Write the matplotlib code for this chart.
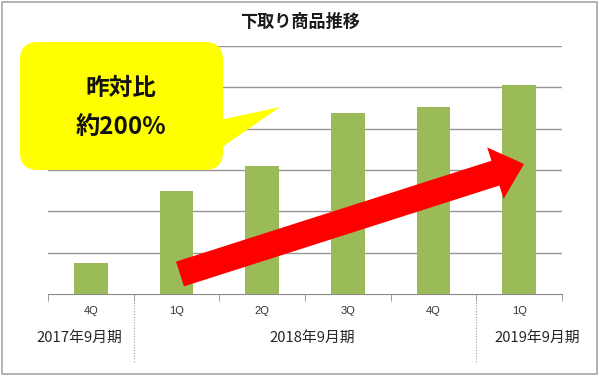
import matplotlib
matplotlib.use("Agg")
import matplotlib.pyplot as plt
from matplotlib.patches import FancyBboxPatch, Polygon, Rectangle
from matplotlib.transforms import Affine2D, blended_transform_factory
import numpy as np

plt.rcParams['font.family'] = ['Noto Sans CJK JP', 'DejaVu Sans']

# ---- data ----
categories = ["4Q", "1Q", "2Q", "3Q", "4Q", "1Q"]
values = [0.74, 2.49, 3.10, 4.37, 4.52, 5.05]
groups = ["2017年9月期", "2018年9月期", "2019年9月期"]
title = "下取り商品推移"
callout_lines = ["昨対比", "約200%"]

W, H = 600, 376
fig = plt.figure(figsize=(W / 100, H / 100), dpi=100)
pix = Affine2D().scale(1 / 100, -1 / 100).translate(0, H / 100) + fig.dpi_scale_trans

# outer frame
fig.patches.append(Rectangle((2, 2), 595, 372, transform=pix, fill=False,
                             edgecolor="#a6a6a6", linewidth=1.2))

ax_l, ax_r, ax_t, ax_b = 48, 562, 46, 294
ax = fig.add_axes([ax_l / W, 1 - ax_b / H, (ax_r - ax_l) / W, (ax_b - ax_t) / H])
x = np.arange(len(categories))
ax.bar(x, values, width=0.39, color="#9bbb59", zorder=3)
ax.set_xlim(-0.5, len(categories) - 0.5)
ax.set_ylim(0, 6)
ax.set_yticks(np.arange(1, 7))
ax.yaxis.grid(True, color="#969696", linewidth=1.0)
ax.tick_params(axis="y", left=False, labelleft=False)
for s in ["left", "right", "top"]:
    ax.spines[s].set_visible(False)
ax.spines["bottom"].set_color("#8c8c8c")
ax.set_xticks(x)
ax.set_xticklabels(categories, fontsize=8, color="#333333",
                   family=['Liberation Sans', 'DejaVu Sans'])
ax.tick_params(axis="x", which="major", length=0, pad=9)
ax.set_xticks(np.arange(-0.5, len(categories)), minor=True)
ax.tick_params(axis="x", which="minor", length=5, color="#8c8c8c")

# group labels and dividers
bt = blended_transform_factory(ax.transData, ax.transAxes)
px_per_ax = (ax_b - ax_t)
for xd in [0.5, 4.5]:
    ax.plot([xd, xd], [0, -(362 - ax_b) / px_per_ax], transform=bt, clip_on=False,
            color="#a0a0a0", linestyle=(0, (1, 1.5)), linewidth=0.8)
label_px = [79, 312, 537]
for g, lp in zip(groups, label_px):
    fig.text(lp / W, 1 - 338 / H, g, ha="center", va="center", fontsize=10.7,
             color="#262626")

# title
fig.text(300 / W, 1 - 22 / H, title, ha="center", va="center", fontsize=12.3,
         fontweight="bold", color="#1a1a1a")

# red arrow
T = np.array([180.0, 274.0])
P = np.array([524.0, 164.0])
u = (P - T) / np.linalg.norm(P - T)
n = np.array([u[1], -u[0]])
sw, hw, hl = 13, 27, 30
B = P - u * hl
arrow_pts = [T + n * sw, B + n * sw, B + n * hw, P, B - n * hw, B - n * sw, T - n * sw]
fig.patches.append(Polygon(arrow_pts, closed=True, transform=pix, facecolor="#ff0000",
                           edgecolor="none", zorder=5))

# callout
fig.patches.append(FancyBboxPatch((20, 42), 203, 128, boxstyle="round,pad=0,rounding_size=18",
                                  transform=pix, facecolor="#ffff00", edgecolor="none", zorder=6))
fig.patches.append(Polygon([(215, 121), (280, 107), (215, 152)], closed=True, transform=pix,
                           facecolor="#ffff00", edgecolor="none", zorder=6))
fig.text(121 / W, 1 - 88 / H, callout_lines[0], ha="center", va="center", fontsize=17,
         fontweight="bold", color="#111111", zorder=7)
fig.text(121 / W, 1 - 127 / H, callout_lines[1], ha="center", va="center", fontsize=17.5,
         fontweight="bold", color="#111111", zorder=7)

fig.savefig("out.png", dpi=100, facecolor="white")
